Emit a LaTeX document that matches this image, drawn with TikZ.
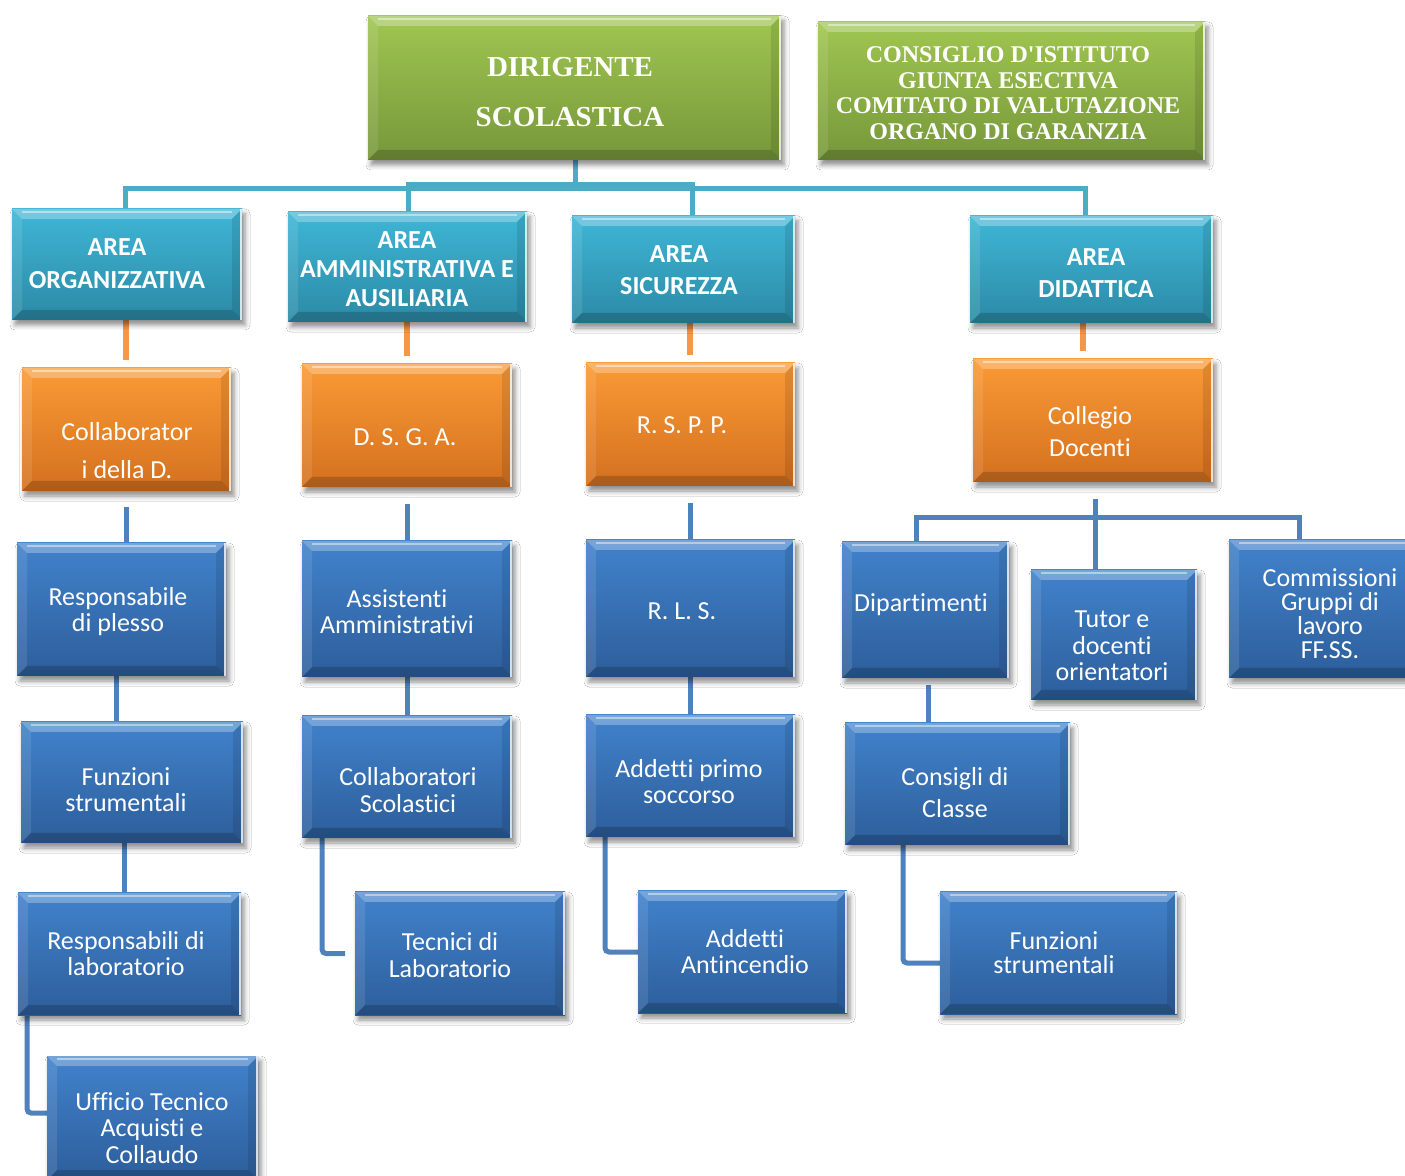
\documentclass[tikz,border=0pt]{standalone}
\usepackage{fontspec}
\setmainfont[Ligatures=NoCommon]{Carlito}
\newfontfamily\tms{Liberation Serif}
\usetikzlibrary{shadows.blur,calc}
\definecolor{grT}{HTML}{A0C651}
\definecolor{grB}{HTML}{76973A}
\definecolor{cyT}{HTML}{3FB6D6}
\definecolor{cyB}{HTML}{2B8AA6}
\definecolor{orT}{HTML}{FA9A35}
\definecolor{orB}{HTML}{D4701F}
\definecolor{blT}{HTML}{4182CB}
\definecolor{blB}{HTML}{2D5E9B}
\definecolor{cyC}{HTML}{4BACC6}
\definecolor{orC}{HTML}{F79646}
\definecolor{blC}{HTML}{4F81BD}
\pgfdeclarelayer{bg}
\pgfsetlayers{bg,main}
\tikzset{
  bevel/.style={path picture={
    \coordinate (bNW) at (path picture bounding box.north west);
    \coordinate (bNE) at (path picture bounding box.north east);
    \coordinate (bSW) at (path picture bounding box.south west);
    \coordinate (bSE) at (path picture bounding box.south east);
    \fill[white,opacity=.28] (bNW) -- (bNE) -- ([shift={(-5pt,-5pt)}]bNE) -- ([shift={(5pt,-5pt)}]bNW) -- cycle;
    \fill[black,opacity=.18] (bSW) -- (bSE) -- ([shift={(-5pt,5pt)}]bSE) -- ([shift={(5pt,5pt)}]bSW) -- cycle;
    \fill[white,opacity=.1] (bNW) -- ([shift={(5pt,-5pt)}]bNW) -- ([shift={(5pt,5pt)}]bSW) -- (bSW) -- cycle;
    \fill[black,opacity=.1] (bNE) -- ([shift={(-5pt,-5pt)}]bNE) -- ([shift={(-5pt,5pt)}]bSE) -- (bSE) -- cycle;
    \draw[white,opacity=.8,line width=1pt] ([xshift=-.5pt]bNE) -- ([xshift=-.5pt]bSE);
    \draw[white,opacity=.45,line width=.8pt] ([shift={(5pt,-1.5pt)}]bNW) -- ([shift={(-5pt,-1.5pt)}]bNE);
  }},
  box/.style={draw=none, inner sep=0pt, outer sep=0pt,
    blur shadow={shadow xshift=1.5pt, shadow yshift=-2.5pt, shadow blur radius=2.5pt, shadow opacity=45}, bevel},
  greenbox/.style={box, top color=grT, bottom color=grB},
  cyanbox/.style={box, top color=cyT, bottom color=cyB},
  orangebox/.style={box, top color=orT, bottom color=orB},
  bluebox/.style={box, top color=blT, bottom color=blB},
  txt/.style={text=white, align=center, inner sep=0pt},
  conn/.style={line width=2.5pt},
  cyl/.style={conn, draw=cyC},
  orl/.style={conn, draw=orC, line width=3pt, shorten >=4pt},
  bll/.style={conn, draw=blC},
}
\newcommand\bx[6]{\node[#2, minimum width={0.5pt*(#5-#3)}, minimum height={0.5pt*(#6-#4)}] (#1) at ({(#3+#5)/2},{(#4+#6)/2}) {};}
\begin{document}
\begin{tikzpicture}[x=0.5pt,y=-0.5pt]
\clip (0,0) rectangle (1405,1176);
% boxes
\bx{ds}{greenbox}{368}{16}{781}{160}
\bx{cdi}{greenbox}{818}{22}{1205}{160}
\bx{a1}{cyanbox}{12}{209}{242}{320}
\bx{a2}{cyanbox}{288}{212}{527}{322}
\bx{a3}{cyanbox}{572}{216}{795}{323}
\bx{a4}{cyanbox}{970}{216}{1213}{323}
\bx{o1}{orangebox}{22}{368}{231}{491}
\bx{o2}{orangebox}{302}{364}{512}{487}
\bx{o3}{orangebox}{586}{363}{795}{486}
\bx{o4}{orangebox}{973}{359}{1213}{482}
\bx{b11}{bluebox}{17}{543}{226}{676}
\bx{b12}{bluebox}{21}{722}{243}{843}
\bx{b13}{bluebox}{18}{893}{241}{1015}
\bx{b14}{bluebox}{47}{1056}{258}{1180}
\bx{b21}{bluebox}{302}{541}{512}{677}
\bx{b22}{bluebox}{302}{716}{512}{838}
\bx{b23}{bluebox}{355}{892}{565}{1015}
\bx{b31}{bluebox}{586}{540}{795}{677}
\bx{b32}{bluebox}{586}{715}{795}{837}
\bx{b33}{bluebox}{638}{891}{847}{1013}
\bx{b41}{bluebox}{842}{542}{1009}{678}
\bx{b42}{bluebox}{1031}{570}{1197}{700}
\bx{b43}{bluebox}{1229}{540}{1432}{678}
\bx{b44}{bluebox}{845}{723}{1070}{845}
\bx{b45}{bluebox}{940}{892}{1177}{1014}
% texts
\node[txt, font={\tms\bfseries\fontsize{14.5pt}{25pt}\selectfont}] (t-ds) at (570,92) {DIRIGENTE\\SCOLASTICA};
\node[txt, font={\tms\bfseries\fontsize{12pt}{12.75pt}\selectfont}] (t-cdi) at (1008,93) {CONSIGLIO D'ISTITUTO\\GIUNTA ESECTIVA\\COMITATO DI VALUTAZIONE\\ORGANO DI GARANZIA};
\node[txt, font={\bfseries\fontsize{13pt}{16.5pt}\selectfont}] (t-a1) at (117,264) {AREA\\ORGANIZZATIVA};
\node[txt, font={\bfseries\fontsize{13pt}{14.5pt}\selectfont}] (t-a2) at (407,269) {AREA\\AMMINISTRATIVA E\\AUSILIARIA};
\node[txt, font={\bfseries\fontsize{13pt}{16pt}\selectfont}] (t-a3) at (679,270) {AREA\\SICUREZZA};
\node[txt, font={\bfseries\fontsize{13pt}{16pt}\selectfont}] (t-a4) at (1096,273) {AREA\\DIDATTICA};
\node[txt, font={\fontsize{13pt}{19pt}\selectfont}] (t-o1) at (127,451) {Collaborator\\i della D.};
\node[txt, font={\fontsize{13pt}{16pt}\selectfont}] (t-o2) at (405,437) {D. S. G. A.};
\node[txt, font={\fontsize{13pt}{16pt}\selectfont}] (t-o3) at (682,425) {R. S. P. P.};
\node[txt, font={\fontsize{13pt}{16pt}\selectfont}] (t-o4) at (1090,432) {Collegio\\Docenti};
\node[txt, font={\fontsize{13pt}{13pt}\selectfont}] (t-b11) at (118,612) {Responsabile\\di plesso};
\node[txt, font={\fontsize{13pt}{13pt}\selectfont}] (t-b12) at (126,790) {Funzioni\\strumentali};
\node[txt, font={\fontsize{13pt}{13pt}\selectfont}] (t-b13) at (126,954) {Responsabili di\\laboratorio};
\node[txt, font={\fontsize{13pt}{13.25pt}\selectfont}] (t-b14) at (152,1128) {Ufficio Tecnico\\Acquisti e\\Collaudo};
\node[txt, font={\fontsize{13pt}{13pt}\selectfont}] (t-b21) at (397,612) {Assistenti\\Amministrativi};
\node[txt, font={\fontsize{13pt}{13.5pt}\selectfont}] (t-b22) at (408,790) {Collaboratori\\Scolastici};
\node[txt, font={\fontsize{13pt}{13.5pt}\selectfont}] (t-b23) at (450,955) {Tecnici di\\Laboratorio};
\node[txt, font={\fontsize{13pt}{13pt}\selectfont}] (t-b31) at (682,611) {R. L. S.};
\node[txt, font={\fontsize{13pt}{13pt}\selectfont}] (t-b32) at (689,782) {Addetti primo\\soccorso};
\node[txt, font={\fontsize{13pt}{13pt}\selectfont}] (t-b33) at (745,952) {Addetti\\Antincendio};
\node[txt, font={\fontsize{13pt}{13pt}\selectfont}] (t-b41) at (921,605) {Dipartimenti};
\node[txt, font={\fontsize{13pt}{13.25pt}\selectfont}] (t-b42) at (1112,646) {Tutor e\\docenti\\orientatori};
\node[txt, font={\fontsize{13pt}{12pt}\selectfont}] (t-b43) at (1330,614) {Commissioni\\Gruppi di\\lavoro\\FF.SS.};
\node[txt, font={\fontsize{13pt}{16pt}\selectfont}] (t-b44) at (955,793) {Consigli di\\Classe};
\node[txt, font={\fontsize{13pt}{12pt}\selectfont}] (t-b45) at (1054,953) {Funzioni\\strumentali};
% connectors
\begin{pgfonlayer}{bg}
\fill[white] (0,0) rectangle (1405,1176);
\draw[cyl] (ds.south -| 575,0) -- (575,189) -| (a1.north -| 125,0);
\draw[cyl] (ds.south -| 575,0) -- (575,189) -| (a4.north -| 1085,0);
\draw[cyl] (ds.south -| 575,0) -- (575,185) -| (a2.north -| 408,0);
\draw[cyl] (ds.south -| 575,0) -- (575,185) -| (a3.north -| 692,0);
\draw[orl] (a1.south -| 126,0) -- (o1.north -| 126,0);
\draw[orl] (a2.south -| 407,0) -- (o2.north -| 407,0);
\draw[orl] (a3.south -| 690,0) -- (o3.north -| 690,0);
\draw[orl] (a4.south -| 1083,0) -- (o4.north -| 1083,0);
\draw[bll, shorten <=8pt] (o1.south -| 126,0) -- (b11.north -| 126,0);
\draw[bll, shorten <=8.5pt] (o2.south -| 407,0) -- (b21.north -| 407,0);
\draw[bll, shorten <=8.5pt] (o3.south -| 690,0) -- (b31.north -| 690,0);
\draw[bll, shorten <=8.5pt] (o4.south -| 1095,0) -- (b42.north -| 1095,0);
\draw[bll] (b41.north -| 916,0) -- (916,518) -- (1299,518) -- (b43.north -| 1299,0);
\draw[bll] (b11.south -| 116,0) -- (b12.north -| 116,0);
\draw[bll] (b12.south -| 124,0) -- (b13.north -| 124,0);
\draw[bll, rounded corners=2pt] (b13.south -| 27,0) |- (b14.west |- 0,1113);
\draw[bll] (b21.south -| 407,0) -- (b22.north -| 407,0);
\draw[bll, rounded corners=2pt, shorten >=5pt] (b22.south -| 322,0) |- (b23.west);
\draw[bll] (b31.south -| 690,0) -- (b32.north -| 690,0);
\draw[bll, rounded corners=2pt] (b32.south -| 605,0) |- (b33.west);
\draw[bll, shorten <=3.5pt] (b41.south -| 928,0) -- (b44.north -| 928,0);
\draw[bll, rounded corners=2pt] (b44.south -| 903,0) |- (b45.west |- 0,963);
\end{pgfonlayer}
\end{tikzpicture}
\end{document}
